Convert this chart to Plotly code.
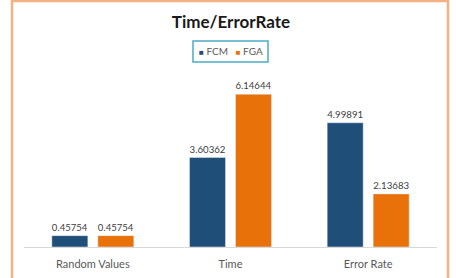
import plotly.graph_objects as go

categories = ["Random Values", "Time", "Error Rate"]
fcm_values = [0.45754, 3.60362, 4.99891]
fga_values = [0.45754, 6.14644, 2.13683]
series_names = ["FCM", "FGA"]
series_colors = ["#1F4E79", "#E8710A"]

W, H = 456, 278
L, R, T, B = 24, 19, 73, 31
pw, ph = W - L - R, H - T - B

def px_x(x):
    return (x - L) / pw

def px_y(y):
    return (H - B - y) / ph

FONT = "Lato, Open Sans, sans-serif"

fig = go.Figure()
for name, vals, col in zip(series_names, [fcm_values, fga_values], series_colors):
    fig.add_trace(go.Bar(
        name=name, x=categories, y=vals,
        marker=dict(color=col),
        text=[f"{v:.5f}" for v in vals], textposition="outside",
        textfont=dict(size=11, color="#404040", family=FONT), cliponaxis=False,
        showlegend=False,
    ))

fig.update_layout(
    width=W, height=H,
    margin=dict(l=L, r=R, t=T, b=B, pad=0, autoexpand=False),
    paper_bgcolor="white", plot_bgcolor="white",
    barmode="group", bargap=0.332, bargroupgap=0.217,
    font=dict(family=FONT, color="#595959"),
    title=dict(text="<b>Time/ErrorRate</b>", x=px_x(231), xref="paper",
               xanchor="center", y=1 - 22 / H, yanchor="middle",
               font=dict(size=17, color="#1a1a1a", family=FONT)),
    xaxis=dict(showline=True, linecolor="#D9D9D9", linewidth=1,
               ticks="", ticklabelstandoff=7, automargin=False,
               tickfont=dict(size=11, color="#595959", family=FONT),
               showgrid=False, zeroline=False),
    yaxis=dict(range=[0, 7], visible=False, showgrid=False, zeroline=False,
               automargin=False),
)

# legend box
fig.add_shape(type="rect", xref="paper", yref="paper",
              x0=px_x(193), x1=px_x(268), y0=px_y(62), y1=px_y(41),
              line=dict(color="#4BACC6", width=1.5))
legend_text = "   ".join(
    f"<span style='color:{c}; font-size:8px'>■</span> {n}"
    for n, c in zip(series_names, series_colors))
fig.add_annotation(text=legend_text, xref="paper", yref="paper",
                   x=px_x(230.5), y=px_y(51.5), xanchor="center", yanchor="middle",
                   showarrow=False, font=dict(size=10, color="#595959", family=FONT))

fig.add_shape(type="rect", xref="paper", yref="paper",
              x0=px_x(12), x1=px_x(448), y0=px_y(290), y1=px_y(1),
              line=dict(color="#F4B183", width=2.5), layer="above")

fig.write_html("out.html")
